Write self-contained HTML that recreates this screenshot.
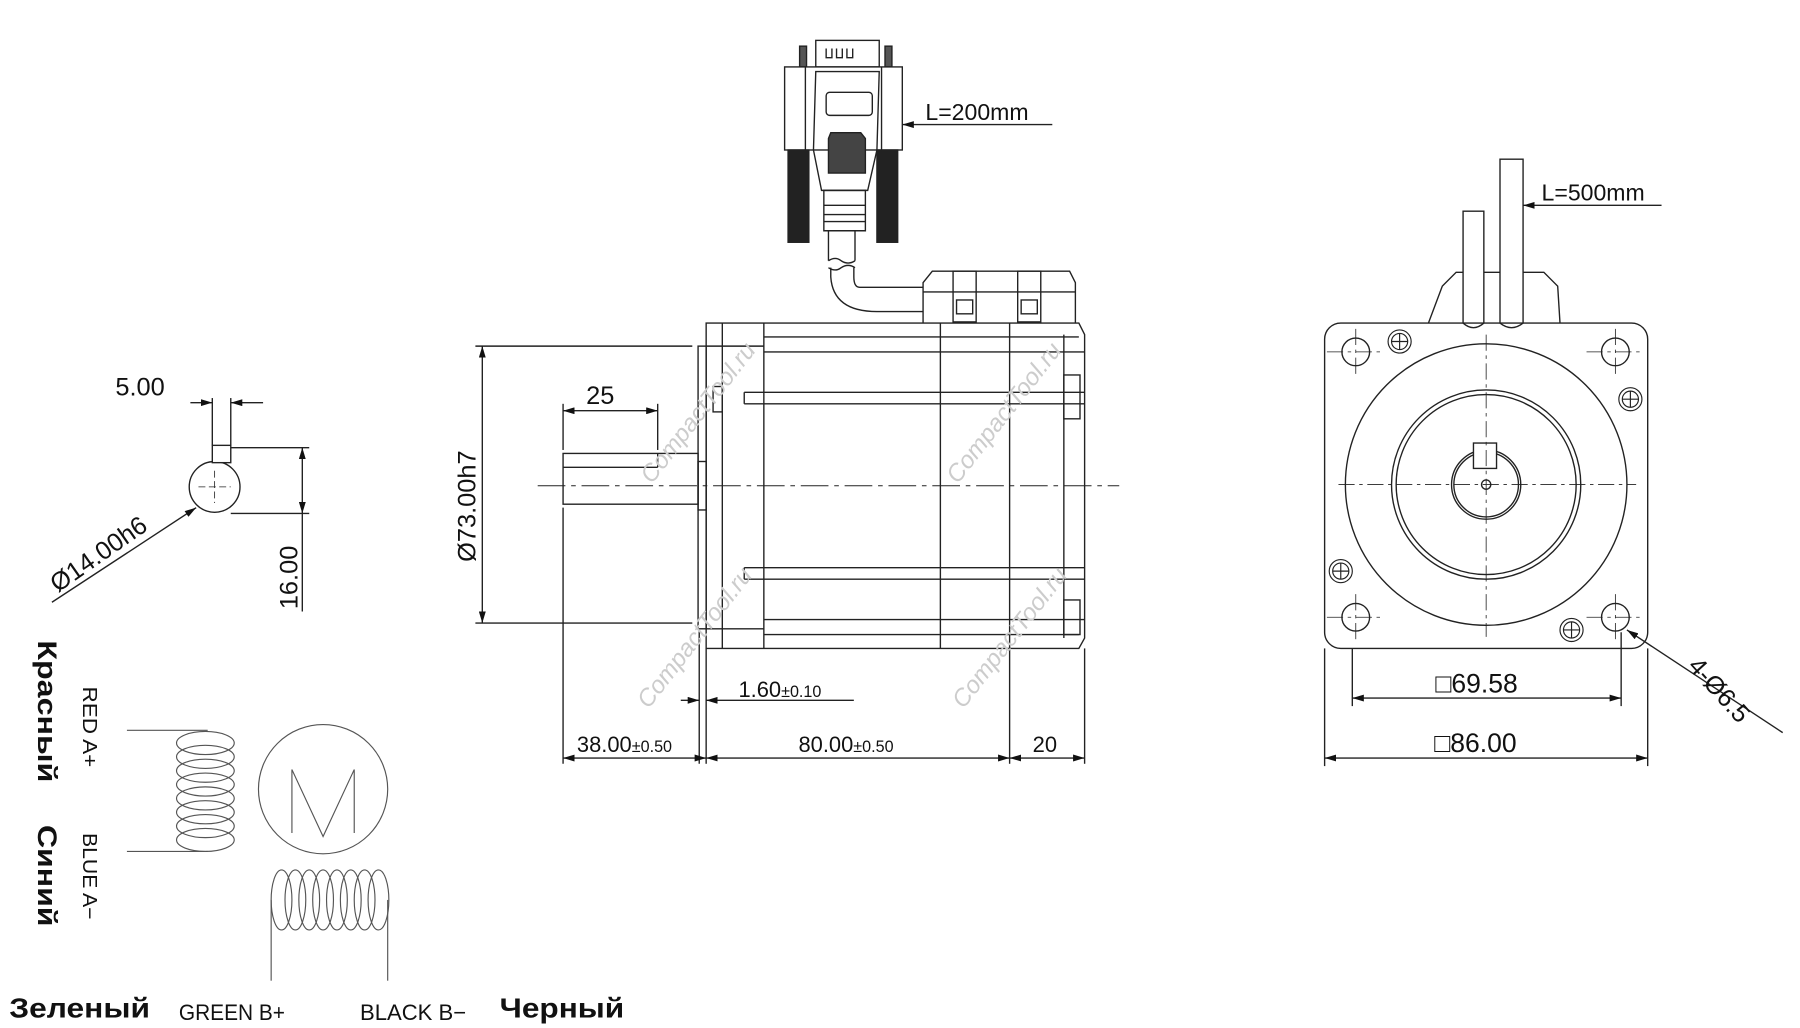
<!DOCTYPE html>
<html><head><meta charset="utf-8"><style>
html,body{margin:0;padding:0;background:#fff;}
svg{display:block;}
text{font-family:"Liberation Sans","DejaVu Sans",sans-serif;fill:#111;}
.n{font-family:"Liberation Sans Narrow","Liberation Sans",sans-serif;}
</style></head><body>
<svg width="1800" height="1028" viewBox="0 0 1560 891" preserveAspectRatio="none" xmlns="http://www.w3.org/2000/svg">
<defs>
<marker id="a" viewBox="0 0 10 6" refX="10" refY="3" markerWidth="10" markerHeight="6" orient="auto-start-reverse" markerUnits="userSpaceOnUse"><path d="M0,0L10,3L0,6z" fill="#111"/></marker>
</defs>
<g fill="none" stroke="#222" stroke-width="1.2">
<circle cx="186" cy="422" r="22"/>
<rect x="184" y="386" width="16" height="15" fill="#fff"/>
<line x1="184" y1="345" x2="184" y2="386"/><line x1="200" y1="345" x2="200" y2="386"/>
<line x1="165" y1="349" x2="184" y2="349" marker-end="url(#a)"/><line x1="228" y1="349" x2="200" y2="349" marker-end="url(#a)"/>
<line x1="200" y1="388" x2="268" y2="388"/><line x1="200" y1="445" x2="268" y2="445"/>
<line x1="262" y1="388" x2="262" y2="445" marker-start="url(#a)" marker-end="url(#a)"/>
<line x1="262" y1="445" x2="262" y2="530"/>
<line x1="45" y1="522" x2="170" y2="440" marker-end="url(#a)"/>
<line x1="172" y1="422" x2="200" y2="422" stroke-dasharray="6,3" stroke-width=".7"/>
<line x1="186" y1="408" x2="186" y2="436" stroke-dasharray="6,3" stroke-width=".7"/>

<line x1="466" y1="421" x2="970" y2="421" stroke-dasharray="24,5,4,5" stroke-width=".8"/>
<rect x="488" y="393" width="117" height="44"/>
<line x1="488" y1="405" x2="570" y2="405"/><line x1="570" y1="393" x2="570" y2="405"/>
<rect x="605" y="400" width="7" height="42"/>
<path d="M612,280H935L940,290V553L935,562H612Z"/>
<rect x="605" y="300" width="7" height="245"/>
<line x1="626" y1="280" x2="626" y2="562"/>
<line x1="662" y1="280" x2="662" y2="562"/>
<line x1="815" y1="280" x2="815" y2="562"/>
<line x1="875" y1="280" x2="875" y2="562"/>
<line x1="922" y1="290" x2="922" y2="553"/>
<line x1="662" y1="292" x2="935" y2="292"/>
<line x1="612" y1="300" x2="662" y2="300"/>
<line x1="662" y1="305" x2="940" y2="305"/>
<line x1="645" y1="340" x2="940" y2="340"/>
<line x1="645" y1="350" x2="940" y2="350"/>
<line x1="645" y1="340" x2="645" y2="350"/>
<line x1="645" y1="492" x2="940" y2="492"/>
<line x1="645" y1="502" x2="940" y2="502"/>
<line x1="645" y1="492" x2="645" y2="502"/>
<line x1="662" y1="537" x2="940" y2="537"/>
<line x1="612" y1="545" x2="662" y2="545"/>
<line x1="662" y1="550" x2="935" y2="550"/>
<rect x="618" y="335" width="8" height="22"/>
<rect x="922" y="325" width="14" height="38"/>
<rect x="922" y="520" width="14" height="30"/>
<path d="M800,280V245L808,235H927L932,245V280"/>
<line x1="800" y1="253" x2="932" y2="253"/>
<rect x="826" y="235" width="20" height="44"/><rect x="882" y="235" width="20" height="44"/>
<rect x="829" y="260" width="14" height="12"/><rect x="885" y="260" width="14" height="12"/>
<path d="M800,270H760Q722,270 720,240V232M800,249H745Q740,249 740,240V232"/>
<path d="M718,232Q724,236 729,232Q735,228 741,232"/>
<path d="M718,226Q724,222 729,226Q735,230 741,226"/>
<line x1="718" y1="200" x2="718" y2="226"/><line x1="741" y1="200" x2="741" y2="226"/>
<rect x="707" y="35" width="55" height="23" fill="#fff"/>
<path d="M716,42v8h5v-8M725,42v8h5v-8M734,42v8h5v-8"/>
<rect x="693" y="40" width="6" height="18" fill="#555"/><rect x="767" y="40" width="6" height="18" fill="#555"/>
<rect x="680" y="58" width="102" height="72" fill="#fff"/>
<line x1="698" y1="58" x2="698" y2="130"/><line x1="764" y1="58" x2="764" y2="130"/>
<path d="M707,62H762L760,130L752,165H712L705,130Z"/>
<rect x="716" y="80" width="40" height="20" rx="3"/>
<path d="M720,115H746L750,120V150H718V120Z" fill="#444"/>
<rect x="683" y="130" width="18" height="80" fill="#222"/><rect x="760" y="130" width="18" height="80" fill="#222"/>
<path d="M714,165H750V200H714Z"/>
<line x1="714" y1="178" x2="750" y2="178"/><line x1="714" y1="186" x2="750" y2="186"/><line x1="714" y1="192" x2="750" y2="192"/>
<line x1="912" y1="108" x2="782" y2="108" marker-end="url(#a)"/>
<line x1="412" y1="300" x2="600" y2="300"/><line x1="412" y1="540" x2="600" y2="540"/>
<line x1="418" y1="300" x2="418" y2="540" marker-start="url(#a)" marker-end="url(#a)"/>
<line x1="488" y1="350" x2="488" y2="390"/><line x1="570" y1="350" x2="570" y2="390"/>
<line x1="488" y1="356" x2="570" y2="356" marker-start="url(#a)" marker-end="url(#a)"/>
<line x1="488" y1="440" x2="488" y2="662"/>
<line x1="606" y1="545" x2="606" y2="662"/>
<line x1="612" y1="562" x2="612" y2="662"/>
<line x1="875" y1="562" x2="875" y2="662"/>
<line x1="940" y1="562" x2="940" y2="662"/>
<line x1="590" y1="607" x2="606" y2="607" marker-end="url(#a)"/><line x1="740" y1="607" x2="612" y2="607" marker-end="url(#a)"/>
<line x1="488" y1="657" x2="612" y2="657" marker-start="url(#a)" marker-end="url(#a)"/>
<line x1="612" y1="657" x2="875" y2="657" marker-start="url(#a)" marker-end="url(#a)"/>
<line x1="875" y1="657" x2="940" y2="657" marker-start="url(#a)" marker-end="url(#a)"/>

<path d="M1238,280L1250,248L1262,236H1338L1350,248L1352,280"/>
<path d="M1268,280V183H1286V280Q1277,288 1268,280Z" fill="#fff"/>
<path d="M1300,280V138H1320V280Q1310,288 1300,280Z" fill="#fff"/>
<line x1="1440" y1="178" x2="1320" y2="178" marker-end="url(#a)"/>
<rect x="1148" y="280" width="280" height="282" rx="14"/>
<circle cx="1288" cy="420" r="122"/>
<circle cx="1288" cy="420" r="82"/><circle cx="1288" cy="420" r="78"/>
<circle cx="1288" cy="420" r="30"/><circle cx="1288" cy="420" r="28"/>
<circle cx="1288" cy="420" r="4"/>
<rect x="1277" y="384" width="20" height="22" fill="#fff"/>
<g stroke-dasharray="14,4,3,4" stroke-width=".7">
<line x1="1160" y1="420" x2="1418" y2="420"/><line x1="1288" y1="290" x2="1288" y2="552"/>
<line x1="1150" y1="305" x2="1200" y2="305"/><line x1="1175" y1="285" x2="1175" y2="325"/>
<line x1="1375" y1="305" x2="1425" y2="305"/><line x1="1400" y1="285" x2="1400" y2="325"/>
<line x1="1150" y1="535" x2="1200" y2="535"/><line x1="1175" y1="515" x2="1175" y2="555"/>
<line x1="1375" y1="535" x2="1425" y2="535"/><line x1="1400" y1="515" x2="1400" y2="555"/>
</g>
<circle cx="1175" cy="305" r="12"/><circle cx="1400" cy="305" r="12"/>
<circle cx="1175" cy="535" r="12"/><circle cx="1400" cy="535" r="12"/>
<g stroke-width="1">
<circle cx="1213" cy="296" r="10"/><circle cx="1213" cy="296" r="7"/><path d="M1206,296h14M1213,289v14"/>
<circle cx="1413" cy="346" r="10"/><circle cx="1413" cy="346" r="7"/><path d="M1406,346h14M1413,339v14"/>
<circle cx="1162" cy="495" r="10"/><circle cx="1162" cy="495" r="7"/><path d="M1155,495h14M1162,488v14"/>
<circle cx="1362" cy="546" r="10"/><circle cx="1362" cy="546" r="7"/><path d="M1355,546h14M1362,539v14"/>
</g>
<line x1="1172" y1="562" x2="1172" y2="612"/><line x1="1405" y1="548" x2="1405" y2="612"/>
<line x1="1148" y1="562" x2="1148" y2="664"/><line x1="1428" y1="562" x2="1428" y2="664"/>
<line x1="1172" y1="605" x2="1405" y2="605" marker-start="url(#a)" marker-end="url(#a)"/>
<line x1="1148" y1="657" x2="1428" y2="657" marker-start="url(#a)" marker-end="url(#a)"/>
<line x1="1545" y1="635" x2="1410" y2="546" marker-end="url(#a)"/>

<g stroke="#555" stroke-width="1">
<line x1="110" y1="633" x2="180" y2="633"/><line x1="110" y1="738" x2="180" y2="738"/>
<ellipse cx="178" cy="644" rx="25" ry="10"/><ellipse cx="178" cy="656" rx="25" ry="10"/>
<ellipse cx="178" cy="668" rx="25" ry="10"/><ellipse cx="178" cy="680" rx="25" ry="10"/>
<ellipse cx="178" cy="692" rx="25" ry="10"/><ellipse cx="178" cy="704" rx="25" ry="10"/>
<ellipse cx="178" cy="716" rx="25" ry="10"/><ellipse cx="178" cy="728" rx="25" ry="10"/>
<ellipse cx="280" cy="684" rx="56" ry="56"/>
<path d="M253,722V667L280,725L307,667V722"/>
<ellipse cx="244" cy="780" rx="9" ry="26"/><ellipse cx="256" cy="780" rx="9" ry="26"/>
<ellipse cx="268" cy="780" rx="9" ry="26"/><ellipse cx="280" cy="780" rx="9" ry="26"/>
<ellipse cx="292" cy="780" rx="9" ry="26"/><ellipse cx="304" cy="780" rx="9" ry="26"/>
<ellipse cx="316" cy="780" rx="9" ry="26"/><ellipse cx="328" cy="780" rx="9" ry="26"/>
<line x1="235" y1="780" x2="235" y2="850"/><line x1="336" y1="780" x2="336" y2="850"/>
</g>
</g>

<g font-size="21" style="font-style:italic">
<text transform="translate(562,615) rotate(-52)" style="fill:#ccc">CompactTool.ru</text>
<text transform="translate(835,615) rotate(-52)" style="fill:#ccc">CompactTool.ru</text>
<text transform="translate(565,420) rotate(-52)" style="fill:#ccc">CompactTool.ru</text>
<text transform="translate(830,420) rotate(-52)" style="fill:#ccc">CompactTool.ru</text>
</g>

<text x="100" y="343" font-size="22">5.00</text>
<text x="508" y="350" font-size="22">25</text>
<text transform="translate(258,528) rotate(-90)" font-size="22">16.00</text>
<text transform="translate(50,514) rotate(-35)" font-size="22">Ø14.00h6</text>
<text transform="translate(412,487) rotate(-90)" font-size="22">Ø73.00h7</text>
<text x="802" y="104" font-size="20">L=200mm</text>
<text x="1336" y="174" font-size="20">L=500mm</text>
<text x="640" y="604" font-size="19">1.60<tspan font-size="14">±0.10</tspan></text>
<text x="500" y="652" font-size="19">38.00<tspan font-size="14">±0.50</tspan></text>
<text x="692" y="652" font-size="19">80.00<tspan font-size="14">±0.50</tspan></text>
<text x="895" y="652" font-size="19">20</text>
<text x="1244" y="600" font-size="23">□69.58</text>
<text x="1243" y="652" font-size="23">□86.00</text>
<text transform="translate(1462,578) rotate(48)" font-size="22">4-Ø6.5</text>
<text transform="translate(33,555) rotate(90)" font-size="23" font-weight="bold" textLength="123" lengthAdjust="spacingAndGlyphs">Красный</text>
<text transform="translate(33,715) rotate(90)" font-size="23" font-weight="bold" textLength="88" lengthAdjust="spacingAndGlyphs">Синий</text>
<text class="n" transform="translate(72,595) rotate(90)" font-size="18" textLength="70" lengthAdjust="spacingAndGlyphs">RED A+</text>
<text class="n" transform="translate(72,722) rotate(90)" font-size="18" textLength="75" lengthAdjust="spacingAndGlyphs">BLUE A−</text>
<text x="8" y="882" font-size="24" font-weight="bold" textLength="122" lengthAdjust="spacingAndGlyphs">Зеленый</text>
<text class="n" x="155" y="884" font-size="19" textLength="92" lengthAdjust="spacingAndGlyphs">GREEN B+</text>
<text class="n" x="312" y="884" font-size="19" textLength="92" lengthAdjust="spacingAndGlyphs">BLACK B−</text>
<text x="433" y="882" font-size="24" font-weight="bold" textLength="108" lengthAdjust="spacingAndGlyphs">Черный</text>
</svg>
</body></html>
